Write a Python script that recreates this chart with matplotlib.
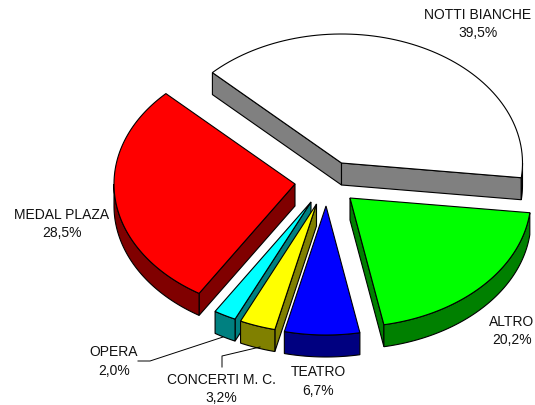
import numpy as np
import matplotlib
matplotlib.use('Agg')
import matplotlib.pyplot as plt
from matplotlib.patches import Polygon

plt.rcParams['font.family'] = ['Liberation Sans', 'DejaVu Sans']

# data, clockwise from the first slice
categories = ['NOTTI BIANCHE', 'ALTRO', 'TEATRO', 'CONCERTI M. C.', 'OPERA', 'MEDAL PLAZA']
values = [39.5, 20.2, 6.7, 3.2, 2.0, 28.5]
value_labels = ['39,5%', '20,2%', '6,7%', '3,2%', '2,0%', '28,5%']

# look of each slice
top_colors = ['#ffffff', '#00ff00', '#0000ff', '#ffff00', '#00ffff', '#ff0000']
side_colors = ['#808080', '#008000', '#000080', '#808000', '#008080', '#800000']

# layout in pixels
apexes = [(341.5, 164), (350, 199), (326, 207), (316.5, 205), (311, 203), (295, 185)]
label_pos = [(478, 24), (512, 331), (318, 381.5), (221.5, 389), (114, 361.5), (62, 224)]
rx, ry = 181, 129
depth = 22
start_angle = 135.5
lw = 0.8
draw_order = [0, 5, 4, 3, 1, 2]  # back slices first, opera goes under concerti

def arc(apex, t1, t2, n=80):
    t = np.radians(np.linspace(t1, t2, n))
    return np.column_stack([apex[0] + rx*np.cos(t), apex[1] - ry*np.sin(t)])

def draw_slice(ax, apex, t1, t2, top, side):
    # t1 > t2, going clockwise
    a = np.array(apex, dtype=float)
    down = np.array([0, depth])
    # flat faces that look toward the viewer
    if np.sin(np.radians(t1 + 90)) < 0:
        p = arc(apex, t1, t1, 1)[0]
        ax.add_patch(Polygon([a, p, p + down, a + down], fc=side, ec='black', lw=lw))
    if np.sin(np.radians(t2 - 90)) < 0:
        p = arc(apex, t2, t2, 1)[0]
        ax.add_patch(Polygon([a, p, p + down, a + down], fc=side, ec='black', lw=lw))
    # outer rim, front half only
    lo, hi = max(t2, -180), min(t1, 0)
    if hi > lo:
        rim = arc(apex, hi, lo)
        ax.add_patch(Polygon(np.vstack([rim, rim[::-1] + down]), fc=side, ec='black', lw=lw))
    top_pts = np.vstack([[a], arc(apex, t1, t2)])
    ax.add_patch(Polygon(top_pts, fc=top, ec='black', lw=lw))

fig = plt.figure(figsize=(5.35, 4.06), dpi=100)
ax = fig.add_axes([0, 0, 1, 1])
ax.set_xlim(0, 535)
ax.set_ylim(406, 0)
ax.axis('off')

spans = np.array(values) / sum(values) * 360
starts = start_angle - np.concatenate([[0], np.cumsum(spans)[:-1]])
for i in draw_order:
    draw_slice(ax, apexes[i], starts[i], starts[i] - spans[i], top_colors[i], side_colors[i])

# leader lines
ax.plot([138, 150, 223], [362, 362, 338], color='black', lw=0.7)
ax.plot([222, 222, 260], [368, 357, 348], color='black', lw=0.7)

for i in range(len(categories)):
    ax.text(label_pos[i][0], label_pos[i][1], categories[i] + '\n' + value_labels[i],
            ha='center', va='center', fontsize=10, color='#111111', linespacing=1.4)

fig.savefig('out.png', dpi=100)
